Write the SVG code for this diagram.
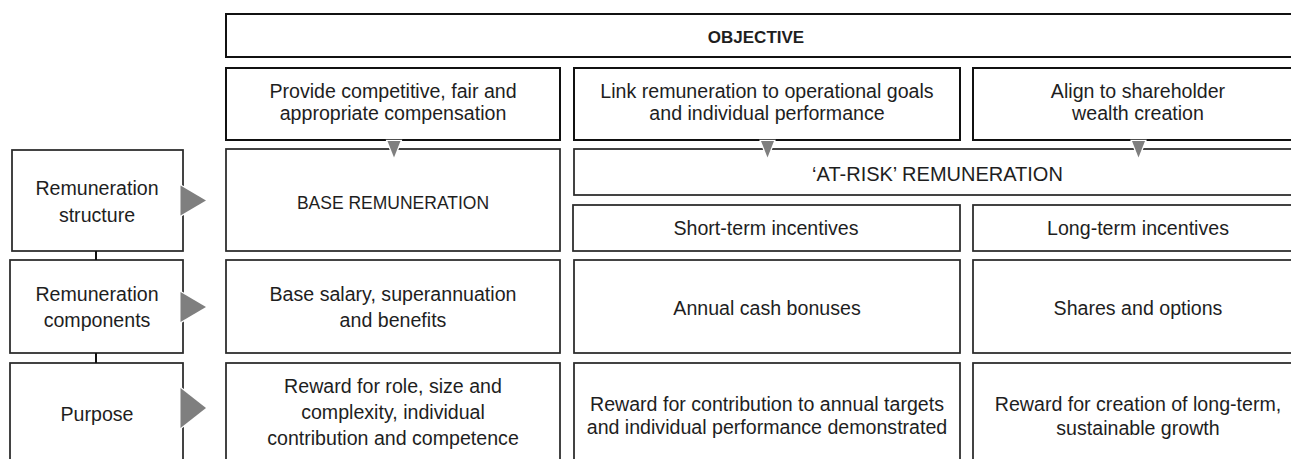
<svg xmlns="http://www.w3.org/2000/svg" width="1291" height="459" viewBox="0 0 1291 459">
<style>
.box{fill:#fff;stroke:#2a2a2a;stroke-width:1.75}
.top{fill:#fff;stroke:#111;stroke-width:2}
.t{font-family:"Liberation Sans",Arial,sans-serif;font-size:19.6px;fill:#1e1e1e;text-anchor:middle}
.b{font-weight:bold;font-size:17px}
.arr{fill:#7f7f7f;stroke:#fff;stroke-width:2.5;stroke-linejoin:miter;paint-order:stroke}
.ln{stroke:#111;stroke-width:2;fill:none}
</style>
<rect width="1291" height="459" fill="#fff"/>
<g id="objective"><rect class="top" x="226" y="14" width="1090" height="43"/><text class="t b" x="756" y="43">OBJECTIVE</text></g>
<g id="obj-provide"><rect class="top" x="226" y="68" width="334" height="72"/><text class="t" x="393" y="97.5">Provide competitive, fair and</text><text class="t" x="393" y="120">appropriate compensation</text></g>
<g id="obj-link"><rect class="top" x="574" y="68" width="386" height="72"/><text class="t" x="767" y="97.5">Link remuneration to operational goals</text><text class="t" x="767" y="120">and individual performance</text></g>
<g id="obj-align"><rect class="top" x="973" y="68" width="340" height="72"/><text class="t" x="1138" y="97.5">Align to shareholder</text><text class="t" x="1138" y="120">wealth creation</text></g>

<g id="lbl-structure"><rect class="box" x="12" y="150" width="171" height="101"/><text class="t" x="97" y="195">Remuneration</text><text class="t" x="97" y="221.5">structure</text></g>
<g id="lbl-components"><rect class="box" x="10" y="260" width="173" height="93"/><text class="t" x="97" y="300.5">Remuneration</text><text class="t" x="97" y="326.5">components</text></g>
<g id="lbl-purpose"><rect class="box" x="10" y="363" width="173" height="110"/><text class="t" x="97" y="420.5">Purpose</text></g>

<g id="base-rem"><rect class="box" x="226" y="149" width="334" height="102"/><text class="t" x="393" y="208.5" style="font-size:17.5px">BASE REMUNERATION</text></g>
<g id="at-risk"><rect class="box" x="574" y="149" width="740" height="46"/><text class="t" x="937.5" y="180.5" style="font-size:20px">‘AT-RISK’ REMUNERATION</text></g>
<g id="sti"><rect class="box" x="573" y="205" width="387" height="46"/><text class="t" x="766" y="235">Short-term incentives</text></g>
<g id="lti"><rect class="box" x="973" y="205" width="340" height="46"/><text class="t" x="1138" y="235">Long-term incentives</text></g>

<g id="base-comp"><rect class="box" x="226" y="260" width="334" height="93"/><text class="t" x="393" y="300.7">Base salary, superannuation</text><text class="t" x="393" y="326.7">and benefits</text></g>
<g id="sti-comp"><rect class="box" x="574" y="260" width="386" height="93"/><text class="t" x="767" y="315">Annual cash bonuses</text></g>
<g id="lti-comp"><rect class="box" x="973" y="260" width="340" height="93"/><text class="t" x="1138" y="315">Shares and options</text></g>

<g id="base-purpose"><rect class="box" x="226" y="363" width="334" height="110"/><text class="t" x="393" y="393.3">Reward for role, size and</text><text class="t" x="393" y="419">complexity, individual</text><text class="t" x="393" y="444.5">contribution and competence</text></g>
<g id="sti-purpose"><rect class="box" x="574" y="363" width="386" height="110"/><text class="t" x="767" y="410.5">Reward for contribution to annual targets</text><text class="t" x="767" y="434">and individual performance demonstrated</text></g>
<g id="lti-purpose"><rect class="box" x="973" y="363" width="340" height="110"/><text class="t" x="1138" y="410.5">Reward for creation of long-term,</text><text class="t" x="1138" y="435">sustainable growth</text></g>

<g id="connectors">
<line class="ln" x1="96" y1="251" x2="96" y2="260"/>
<line class="ln" x1="96" y1="353" x2="96" y2="363"/>
<polygon class="arr" points="387.5,141 400.5,141 394,157.5"/>
<polygon class="arr" points="761,141 774,141 767.5,157.5"/>
<polygon class="arr" points="1132,141 1145,141 1138.5,157.5"/>
<polygon class="arr" points="180.5,185.5 206,200.5 180.5,215.5"/>
<polygon class="arr" points="180.5,292 206,307 180.5,322"/>
<polygon class="arr" points="180.5,388 206,408 180.5,428"/>
</g>
</svg>
